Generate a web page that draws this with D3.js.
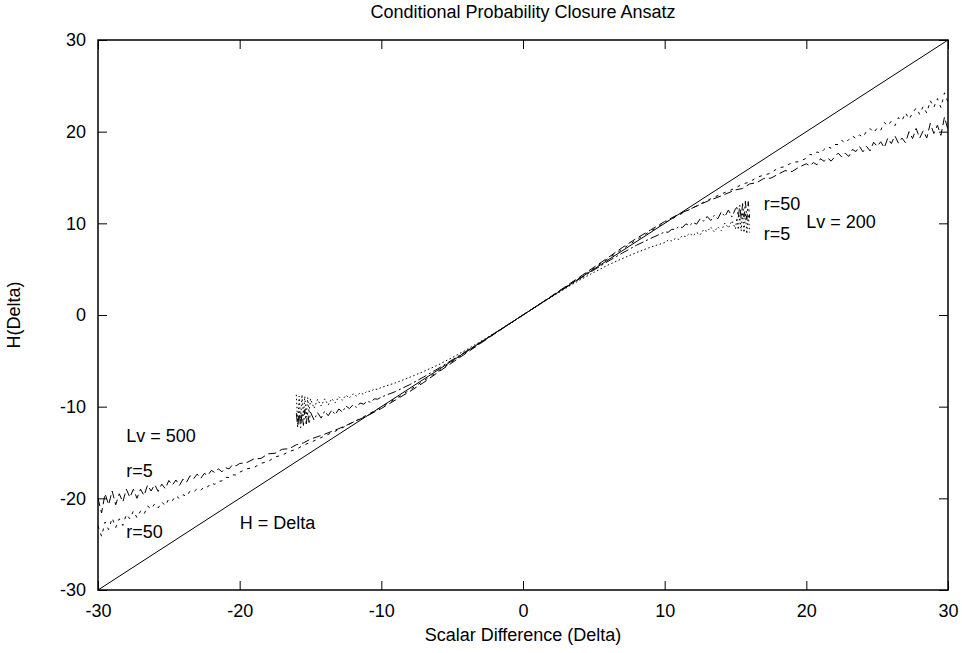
<!DOCTYPE html>
<html>
<head>
<meta charset="utf-8">
<script src="https://cdn.jsdelivr.net/npm/d3@7"></script>
<style>
body { margin: 0; background: #fff; }
text { font-family: "Liberation Sans", Arial, Helvetica, sans-serif; }
</style>
</head>
<body>
<div id="chart"></div>
<script>
// values
var xTicks = [-30, -20, -10, 0, 10, 20, 30];
var xTickLabels = ["-30", "-20", "-10", "0", "10", "20", "30"];
var yTicks = [-30, -20, -10, 0, 10, 20, 30];
var yTickLabels = ["-30", "-20", "-10", "0", "10", "20", "30"];

// H = Delta reference line
var diagX = [-30, 30];
var diagY = [-30, 30];

// Lv = 500 runs
var xs500 = [-30, -29.75, -29.5, -29.25, -29, -28.75, -28.5, -28.25, -28, -27.75, -27.5, -27.25, -27, -26.75, -26.5, -26.25,
  -26, -25.75, -25.5, -25.25, -25, -24.75, -24.5, -24.25, -24, -23.75, -23.5, -23.25, -23, -22.75, -22.5, -22.25,
  -22, -21.75, -21.5, -21.25, -21, -20.75, -20.5, -20.25, -20,
  -19.5, -19, -18.5, -18, -17.5, -17, -16.5, -16, -15.5, -15,
  -14, -13, -12, -11, -10, -9, -8, -7, -6, -5, -4, -3, -2, -1, 0, 1, 2, 3, 4, 5, 6, 7, 8, 9, 10, 11, 12, 13, 14,
  15, 15.5, 16, 16.5, 17, 17.5, 18, 18.5, 19, 19.5,
  20, 20.25, 20.5, 20.75, 21, 21.25, 21.5, 21.75, 22, 22.25, 22.5, 22.75, 23, 23.25, 23.5, 23.75,
  24, 24.25, 24.5, 24.75, 25, 25.25, 25.5, 25.75, 26, 26.25, 26.5, 26.75, 27, 27.25, 27.5, 27.75,
  28, 28.25, 28.5, 28.75, 29, 29.25, 29.5, 29.75, 30];

var h500r5 = [-20.0, -21.6, -19.5, -20.7, -19.2, -20.7, -19.5, -20.4, -19.0, -19.9, -19.0, -20.0, -19.0, -19.7, -18.55, -19.2,
  -18.5, -19.25, -18.45, -18.95, -18.05, -18.55, -18.0, -18.6, -17.9, -18.24, -17.53, -17.86, -17.35, -17.84, -17.28, -17.51,
  -16.95, -17.19, -16.78, -17.11, -16.65, -16.79, -16.33, -16.46, -16.2,
  -16.1, -15.7, -15.65, -15.15, -15.08, -14.65, -14.58, -14.15, -13.95, -13.55,
  -13.0, -12.4, -11.7, -11.0, -10.2, -9.27, -8.35, -7.35, -6.25, -5.2, -4.15, -3.1, -2.05, -1.02, 0,
  1.02, 2.05, 3.1, 4.15, 5.2, 6.25, 7.35, 8.35, 9.27, 10.2, 11.0, 11.7, 12.4, 13.0,
  13.65, 13.8, 14.3, 14.43, 14.9, 14.93, 15.35, 15.75, 15.65, 16.15,
  16.5, 16.26, 16.63, 16.39, 17.05, 16.76, 17.13, 16.79, 17.25, 17.66, 17.23, 17.64, 17.3, 18.06, 17.83, 18.39,
  17.8, 18.4, 17.9, 18.85, 18.4, 18.9, 18.25, 19.3, 18.7, 19.55, 18.75, 19.3, 18.8, 20.0, 19.25, 20.35,
  19.3, 20.1, 19.3, 20.9, 19.8, 20.7, 19.6, 21.6, 20.2];

var h500r50 = [-23.0, -24.14, -22.58, -23.41, -22.15, -23.19, -22.23, -22.96, -21.75, -22.24, -21.38, -22.11, -21.4, -21.74, -20.83, -21.16,
  -20.6, -21.05, -20.4, -20.8, -20.05, -20.25, -19.7, -20.05, -19.6, -19.8, -19.2, -19.3, -18.95, -19.15, -18.7, -18.75,
  -18.3, -18.49, -18.13, -18.11, -17.7, -17.74, -17.43, -17.46, -17.15,
  -16.78, -16.65, -16.18, -16.0, -15.48, -15.3, -14.88, -14.65, -14.2, -13.9,
  -13.2, -12.5, -11.7, -10.9, -10.05, -9.15, -8.18, -7.17, -6.15, -5.1, -4.08, -3.05, -2.02, -1.01, 0,
  1.01, 2.02, 3.05, 4.08, 5.1, 6.15, 7.17, 8.18, 9.15, 10.05, 10.9, 11.7, 12.5, 13.2,
  13.85, 14.3, 14.5, 15.03, 15.25, 15.48, 16.05, 16.18, 16.65, 16.73,
  17.1, 17.51, 17.48, 17.79, 17.65, 18.06, 18.38, 18.19, 18.6, 18.6, 19.05, 18.75, 19.15, 19.55, 19.25, 19.65,
  19.4, 20.05, 20.35, 19.9, 20.4, 20.15, 21.0, 20.65, 21.15, 20.66, 21.53, 21.19, 22.05, 21.36, 22.03, 22.59,
  21.9, 22.76, 22.03, 23.39, 22.65, 23.61, 22.63, 24.24, 23.2];

// Lv = 200 runs
var xs200 = [-16, -15.9, -15.8, -15.7, -15.6, -15.5, -15.4, -15.3, -15.2, -15.1,
  -15, -14.75, -14.5, -14.25, -14, -13.75, -13.5, -13.25, -13, -12.75, -12.5, -12.25, -12, -11.75, -11.5, -11.25,
  -11, -10.75, -10.5, -10.25, -10,
  -9, -8, -7, -6, -5, -4, -3, -2, -1, 0, 1, 2, 3, 4, 5, 6, 7, 8, 9,
  10, 10.25, 10.5, 10.75, 11, 11.25, 11.5, 11.75, 12, 12.25, 12.5, 12.75, 13, 13.25, 13.5, 13.75,
  14, 14.25, 14.5, 14.75, 15,
  15.1, 15.2, 15.3, 15.4, 15.5, 15.6, 15.7, 15.8, 15.9, 16];

var h200r50 = [-10.7, -12.27, -10.54, -12.31, -10.68, -12.05, -10.32, -11.89, -10.66, -11.73,
  -10.6, -11.45, -10.65, -11.25, -10.5, -10.99, -10.38, -10.86, -10.25, -10.59, -9.93, -10.21, -9.8, -10.08, -9.6, -9.73,
  -9.4, -9.53, -9.15, -9.18, -8.95,
  -8.35, -7.6, -6.75, -5.85, -4.9, -3.95, -2.98, -2.0, -1.0, 0, 1.0, 2.0, 2.98, 3.95, 4.9, 5.85, 6.75, 7.6, 8.35,
  9.05, 9.03, 9.35, 9.33, 9.65, 9.53, 9.95, 9.73, 10.1, 9.91, 10.48, 10.24, 10.75, 10.31, 10.88, 10.49,
  11.25, 10.75, 11.45, 10.7, 11.6,
  11.73, 10.66, 11.99, 10.52, 12.15, 10.68, 12.41, 10.44, 12.37, 10.6];

var h200r5 = [-8.7, -11.88, -8.86, -11.53, -8.7, -10.98, -8.87, -11.14, -9.01, -10.68,
  -9.15, -10.18, -9.2, -9.93, -9.15, -9.81, -9.13, -9.59, -8.9, -9.3, -8.75, -9.05, -8.6, -8.85, -8.5, -8.65,
  -8.3, -8.34, -8.08, -8.11, -7.9,
  -7.4, -6.8, -6.15, -5.45, -4.65, -3.8, -2.9, -1.95, -0.99, 0, 0.99, 1.95, 2.9, 3.8, 4.65, 5.45, 6.15, 6.8, 7.4,
  7.9, 8.16, 8.08, 8.34, 8.25, 8.65, 8.55, 8.9, 8.65, 9.0, 8.75, 9.3, 9.1, 9.59, 9.08, 9.61,
  9.2, 10.03, 9.5, 10.28, 9.4,
  10.58, 9.31, 10.84, 9.17, 11.18, 9.0, 11.13, 8.86, 10.98, 9.0];

// text labels placed in data coords
var notes = [
  { text: "r=50", x: 17, y: 11.45 },
  { text: "r=5", x: 17, y: 8.2 },
  { text: "Lv = 200", x: 20, y: 9.5 },
  { text: "Lv = 500", x: -28, y: -13.9 },
  { text: "r=5", x: -28, y: -17.7 },
  { text: "r=50", x: -28, y: -24.3 },
  { text: "H = Delta", x: -20, y: -23.3 }
];

var svgWidth = 962;
var svgHeight = 653;
var margin = { left: 98, right: 14, top: 40, bottom: 63 };
var width = svgWidth - margin.left - margin.right;
var height = svgHeight - margin.top - margin.bottom;
var fontSize = 18;

var svg = d3.select("#chart")
  .append("svg")
  .attr("width", svgWidth)
  .attr("height", svgHeight);

var chartGroup = svg.append("g")
  .attr("transform", `translate(${margin.left}, ${margin.top})`);

var xScale = d3.scaleLinear().domain([-30, 30]).range([0, width]);
var yScale = d3.scaleLinear().domain([-30, 30]).range([height, 0]);

// gnuplot style: ticks inside, mirrored on top and right
function styleAxis(g) {
  g.select(".domain").remove();
  g.attr("font-size", fontSize)
    .attr("font-family", '"Liberation Sans", Arial, sans-serif');
  g.selectAll("line").attr("stroke", "#000");
  g.selectAll("text").attr("fill", "#000");
}

chartGroup.append("g")
  .attr("transform", `translate(0, ${height})`)
  .call(d3.axisBottom(xScale).tickValues(xTicks).tickSize(-9).tickPadding(14)
    .tickFormat((d, i) => xTickLabels[i]))
  .call(styleAxis);

chartGroup.append("g")
  .call(d3.axisTop(xScale).tickValues(xTicks).tickSize(-9).tickFormat(""))
  .call(styleAxis);

chartGroup.append("g")
  .call(d3.axisLeft(yScale).tickValues(yTicks).tickSize(-9).tickPadding(12)
    .tickFormat((d, i) => yTickLabels[i]))
  .call(styleAxis);

chartGroup.append("g")
  .attr("transform", `translate(${width}, 0)`)
  .call(d3.axisRight(yScale).tickValues(yTicks).tickSize(-9).tickFormat(""))
  .call(styleAxis);

chartGroup.append("rect")
  .attr("x", 0)
  .attr("y", 0)
  .attr("width", width)
  .attr("height", height)
  .attr("fill", "none")
  .attr("stroke", "#000")
  .attr("stroke-width", 1.5);

var line = d3.line()
  .x(d => xScale(d[0]))
  .y(d => yScale(d[1]));

function pairs(xs, ys) {
  return xs.map((x, i) => [x, ys[i]]);
}

var series = [
  { xs: diagX, ys: diagY, dash: null },
  { xs: xs500, ys: h500r5, dash: "8,4" },
  { xs: xs500, ys: h500r50, dash: "3,5" },
  { xs: xs200, ys: h200r5, dash: "1.5,2.5" },
  { xs: xs200, ys: h200r50, dash: "9,3,2,3" }
];

chartGroup.selectAll(".series")
  .data(series)
  .enter()
  .append("path")
  .attr("class", "series")
  .attr("d", d => line(pairs(d.xs, d.ys)))
  .attr("fill", "none")
  .attr("stroke", "#000")
  .attr("stroke-width", 1)
  .attr("stroke-dasharray", d => d.dash);

chartGroup.selectAll(".note")
  .data(notes)
  .enter()
  .append("text")
  .attr("class", "note")
  .attr("x", d => xScale(d.x))
  .attr("y", d => yScale(d.y))
  .attr("font-size", fontSize)
  .text(d => d.text);

svg.append("text")
  .attr("x", margin.left + width / 2)
  .attr("y", 18)
  .attr("text-anchor", "middle")
  .attr("font-size", fontSize)
  .text("Conditional Probability Closure Ansatz");

svg.append("text")
  .attr("x", margin.left + width / 2)
  .attr("y", 641)
  .attr("text-anchor", "middle")
  .attr("font-size", fontSize)
  .text("Scalar Difference (Delta)");

svg.append("text")
  .attr("transform", `translate(20, ${margin.top + height / 2}) rotate(-90)`)
  .attr("text-anchor", "middle")
  .attr("font-size", fontSize)
  .text("H(Delta)");
</script>
</body>
</html>
